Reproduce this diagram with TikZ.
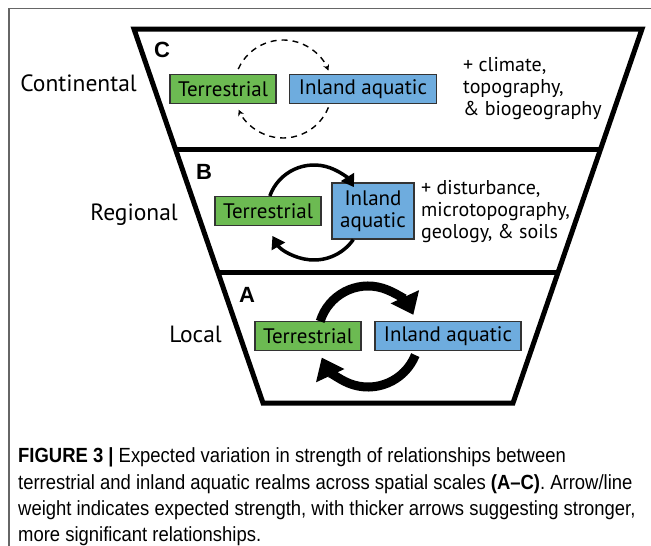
\documentclass[tikz,border=0pt]{standalone}
\usepackage{fontspec}
\usetikzlibrary{arrows.meta,calc,positioning}
\newfontfamily\figfont{PT Sans}
\newfontfamily\capfont[FakeStretch=0.90]{Liberation Sans}
\newfontfamily\letfont{Liberation Sans}
\definecolor{terGreen}{RGB}{108,186,82}
\definecolor{aquBlue}{RGB}{110,172,222}
\begin{document}
\begin{tikzpicture}[x=1pt,y=-1pt,
  realm/.style={draw=black!80, line width=1.2, inner sep=0pt, align=center,
    font=\figfont\fontsize{21}{22}\selectfont},
  terbox/.style={realm, fill=terGreen, minimum height=29},
  aqubox/.style={realm, fill=aquBlue, minimum height=29},
  scalename/.style={anchor=east, inner sep=0pt, font=\figfont\fontsize{23.5}{24}\selectfont},
  drivers/.style={anchor=west, inner sep=0pt, align=left, font=\figfont\fontsize{20}{22}\selectfont},
  panel/.style={inner sep=0pt, font=\letfont\bfseries\fontsize{22}{22}\selectfont},
  capline/.style={anchor=west, inner sep=0pt, font=\capfont\fontsize{20.5}{21}\selectfont},
  weakarr/.style={line width=1.4, dash pattern=on 6pt off 5pt, -{Stealth[length=6pt,width=6pt]}},
  midarr/.style={line width=3.5, -{Triangle[length=12pt,width=15pt]}},
  strongarr/.style={line width=9, -{Triangle[length=20pt,width=30pt]}}]
\useasboundingbox (0,0) rectangle (651,546);
\fill[white] (0,0) rectangle (651,546);
\draw[black!60, line width=1.2] (9,546) -- (9,8.5) -- (651,8.5);
% funnel
\coordinate (TL) at (134,29);
\coordinate (TR) at (642,29);
\coordinate (BR) at (513,403);
\coordinate (BL) at (263,403);
\draw[line width=5, line join=miter] (TL) -- (TR) -- (BR) -- (BL) -- cycle;
\draw[line width=5] ($(TL)!0.323!(BL)$) -- ($(TR)!0.323!(BR)$);
\draw[line width=5] ($(TL)!0.651!(BL)$) -- ($(TR)!0.651!(BR)$);
% C continental
\node[panel] (labC) at (162,50) {C};
\node[scalename] (scaleC) at (137,83) {Continental};
\node[terbox, minimum width=106] (terC) at (223,89) {Terrestrial};
\node[aqubox, minimum width=147] (aquC) at (363,89) {Inland aquatic};
\node[drivers] (drvC) at (463,89) {+ climate,\\topography,\\\& biogeography};
\coordinate (loopC) at (283,89);
\draw[weakarr] ([shift={(-156:49)}]loopC) arc[start angle=-156, end angle=-22, radius=49];
\draw[weakarr] ([shift={(22:49)}]loopC) arc[start angle=22, end angle=155, radius=49];
% B regional
\node[panel] (labB) at (204,172) {B};
\node[scalename] (scaleB) at (178,215) {Regional};
\node[terbox, minimum width=106] (terB) at (268,211) {Terrestrial};
\node[aqubox, minimum width=82, minimum height=56] (aquB) at (373,211) {Inland\\aquatic};
\node[drivers] (drvB) at (421,212) {+ disturbance,\\microtopography,\\geology, \& soils};
\coordinate (loopB) at (314,212);
\draw[midarr] ([shift={(-160:47)}]loopB) arc[start angle=-160, end angle=-32, radius=47];
\draw[midarr] ([shift={(35:48)}]loopB) arc[start angle=35, end angle=150, radius=48];
% A local
\node[panel] (labA) at (247,295) {A};
\node[scalename] (scaleA) at (222,334) {Local};
\node[terbox, minimum width=106] (terA) at (308,336) {Terrestrial};
\node[aqubox, minimum width=146] (aquA) at (448,336) {Inland aquatic};
\coordinate (loopA) at (368,336);
\draw[strongarr] ([shift={(-163:50)}]loopA) arc[start angle=-163, end angle=-25, radius=50];
\draw[strongarr] ([shift={(22:51)}]loopA) arc[start angle=22, end angle=155, radius=51];
% caption
\node[capline] (cap1) at (18,457) {\textbf{FIGURE 3 |} Expected variation in strength of relationships between};
\node[capline] (cap2) at (18,484) {terrestrial and inland aquatic realms across spatial scales \textbf{(A–C)}. Arrow/line};
\node[capline] (cap3) at (18,510) {weight indicates expected strength, with thicker arrows suggesting stronger,};
\node[capline] (cap4) at (18,536) {more significant relationships.};
\end{tikzpicture}
\end{document}
